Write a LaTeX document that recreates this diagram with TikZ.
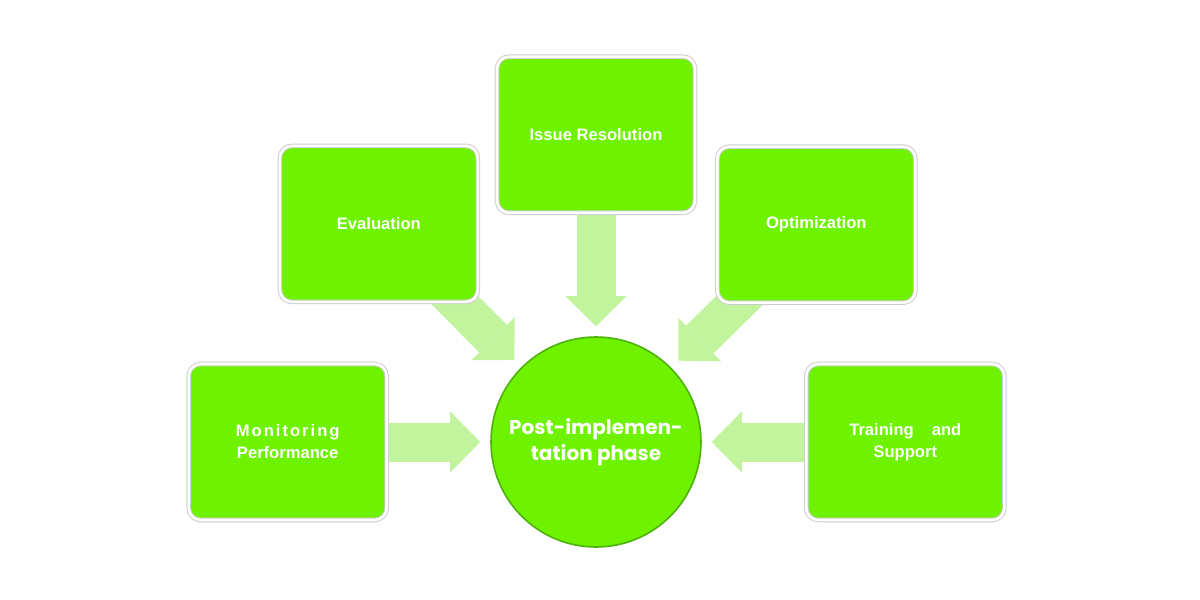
\documentclass[tikz,border=0pt]{standalone}
\usepackage{fontspec}
\setmainfont{Liberation Sans}
\newfontfamily\hubfont{Poppins}
\usetikzlibrary{positioning,arrows.meta,backgrounds}
\definecolor{leafgreen}{RGB}{111,242,0}
\definecolor{rimgreen}{RGB}{78,178,12}
\definecolor{palegreen}{RGB}{194,244,158}

\tikzset{
	stagebox/.style={rectangle, rounded corners=6pt, fill=leafgreen, draw=gray!40, line width=0.5pt, double=white, double distance=1.3pt, minimum width=99pt, minimum height=78pt, align=center, text=white, font=\bfseries\fontsize{8.3}{11}\selectfont},
	hubnode/.style={circle, fill=leafgreen, draw=rimgreen, line width=0.8pt, minimum size=105pt, inner sep=0pt, align=center, text=white, font=\hubfont\bfseries\fontsize{10}{13}\selectfont},
	feed/.style={draw=palegreen, line width=19.5pt, -{Triangle[width=30.5pt,length=15pt,line width=0pt]}, shorten >=5pt},
}

\begin{document}
\begin{tikzpicture}[x=0.5pt, y=-0.5pt]
			\useasboundingbox (0,0) rectangle (1200,600);
			\node [hubnode] (hub) at (596,442) {Post-implemen-\\tation phase};
			\node [stagebox, left=51.5pt of hub] (mon) {{\addfontfeatures{LetterSpace=12}Monitoring}\\Performance};
			\node [stagebox, above left=32.4pt and 21.4pt of hub] (eval) {Evaluation};
			\node [stagebox, above=61.5pt of hub] (issue) {Issue Resolution};
			\node [stagebox, above right=32pt and 23pt of hub] (opt) {Optimization};
			\node [stagebox, right=52pt of hub] (train) {Training\hspace{9pt}and\\Support};
			%
			\begin{scope}[on background layer]
				\draw [feed] (mon.center) -- (hub);
				\draw [feed] (eval.center) -- (hub);
				\draw [feed] (issue.center) -- (hub);
				\draw [feed] (opt.center) -- (hub);
				\draw [feed] (train.center) -- (hub);
			\end{scope}
		\end{tikzpicture}
\end{document}
